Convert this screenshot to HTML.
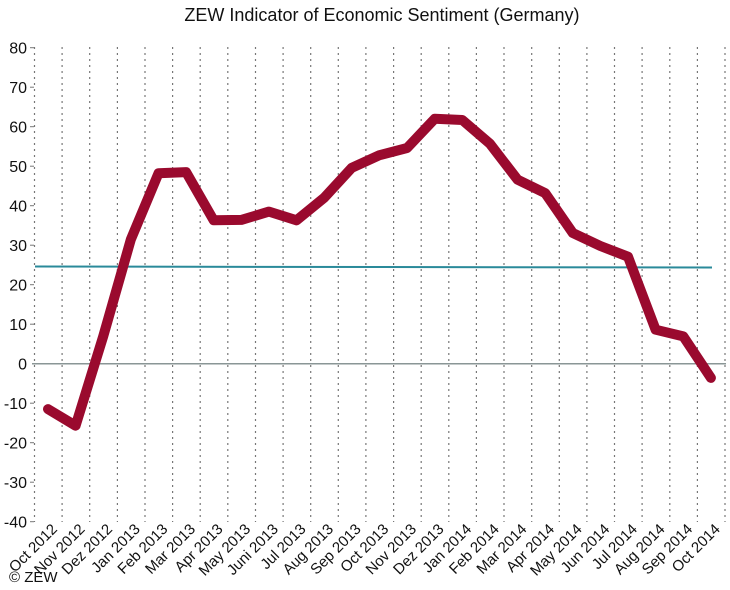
<!DOCTYPE html>
<html><head><style>body{margin:0;background:#fff}</style></head><body>
<svg width="730" height="585" xmlns="http://www.w3.org/2000/svg" font-family="Liberation Sans, sans-serif">
<text x="382" y="21" font-size="18" text-anchor="middle" fill="#111">ZEW Indicator of Economic Sentiment (Germany)</text>
<g stroke="#777" stroke-width="1.2" stroke-dasharray="2,4">
<line x1="34.5" y1="47" x2="34.5" y2="522"/><line x1="62.1" y1="47" x2="62.1" y2="522"/><line x1="89.7" y1="47" x2="89.7" y2="522"/><line x1="117.4" y1="47" x2="117.4" y2="522"/><line x1="145" y1="47" x2="145" y2="522"/><line x1="172.6" y1="47" x2="172.6" y2="522"/><line x1="200.2" y1="47" x2="200.2" y2="522"/><line x1="227.8" y1="47" x2="227.8" y2="522"/><line x1="255.5" y1="47" x2="255.5" y2="522"/><line x1="283.1" y1="47" x2="283.1" y2="522"/><line x1="310.7" y1="47" x2="310.7" y2="522"/><line x1="338.3" y1="47" x2="338.3" y2="522"/><line x1="365.9" y1="47" x2="365.9" y2="522"/><line x1="393.6" y1="47" x2="393.6" y2="522"/><line x1="421.2" y1="47" x2="421.2" y2="522"/><line x1="448.8" y1="47" x2="448.8" y2="522"/><line x1="476.4" y1="47" x2="476.4" y2="522"/><line x1="504" y1="47" x2="504" y2="522"/><line x1="531.7" y1="47" x2="531.7" y2="522"/><line x1="559.3" y1="47" x2="559.3" y2="522"/><line x1="586.9" y1="47" x2="586.9" y2="522"/><line x1="614.5" y1="47" x2="614.5" y2="522"/><line x1="642.1" y1="47" x2="642.1" y2="522"/><line x1="669.8" y1="47" x2="669.8" y2="522"/><line x1="697.4" y1="47" x2="697.4" y2="522"/><line x1="725" y1="47" x2="725" y2="522"/>
</g>
<g stroke="#777">
<line x1="30" y1="47.7" x2="34" y2="47.7"/><line x1="30" y1="87.2" x2="34" y2="87.2"/><line x1="30" y1="126.7" x2="34" y2="126.7"/><line x1="30" y1="166.2" x2="34" y2="166.2"/><line x1="30" y1="205.7" x2="34" y2="205.7"/><line x1="30" y1="245.2" x2="34" y2="245.2"/><line x1="30" y1="284.7" x2="34" y2="284.7"/><line x1="30" y1="324.2" x2="34" y2="324.2"/><line x1="30" y1="403.2" x2="34" y2="403.2"/><line x1="30" y1="442.7" x2="34" y2="442.7"/><line x1="30" y1="482.2" x2="34" y2="482.2"/><line x1="30" y1="521.7" x2="34" y2="521.7"/>
</g>
<g font-size="16" text-anchor="end" fill="#111">
<text x="27" y="53.7">80</text><text x="27" y="93.2">70</text><text x="27" y="132.7">60</text><text x="27" y="172.2">50</text><text x="27" y="211.7">40</text><text x="27" y="251.2">30</text><text x="27" y="290.7">20</text><text x="27" y="330.2">10</text><text x="27" y="369.7">0</text><text x="27" y="409.2">-10</text><text x="27" y="448.7">-20</text><text x="27" y="488.2">-30</text><text x="27" y="527.7">-40</text>
</g>
<line x1="32" y1="363.7" x2="726" y2="363.7" stroke="#8a9696" stroke-width="1.5"/>
<line x1="35" y1="266.5" x2="712" y2="267.5" stroke="#2a8a9a" stroke-width="2"/>
<polyline points="48,409.1 75.6,425.7 103.2,336.4 130.9,239.3 158.5,173.3 186.1,172.1 213.7,220.3 241.3,219.9 269,211.6 296.6,220.3 324.2,197.8 351.8,167.8 379.4,155.2 407.1,148 434.7,118.8 462.3,120 489.9,143.7 517.5,179.6 545.2,193.1 572.8,233 600.4,246 628,256.7 655.6,329.7 683.3,336.4 710.9,377.9" fill="none" stroke="#9a0a2e" stroke-width="10" stroke-linejoin="round" stroke-linecap="round"/>
<g font-size="15" text-anchor="end" fill="#111">
<text transform="translate(58,530) rotate(-45)">Oct 2012</text>
<text transform="translate(85.6,530) rotate(-45)">Nov 2012</text>
<text transform="translate(113.2,530) rotate(-45)">Dez 2012</text>
<text transform="translate(140.9,530) rotate(-45)">Jan 2013</text>
<text transform="translate(168.5,530) rotate(-45)">Feb 2013</text>
<text transform="translate(196.1,530) rotate(-45)">Mar 2013</text>
<text transform="translate(223.7,530) rotate(-45)">Apr 2013</text>
<text transform="translate(251.3,530) rotate(-45)">May 2013</text>
<text transform="translate(279,530) rotate(-45)">Juni 2013</text>
<text transform="translate(306.6,530) rotate(-45)">Jul 2013</text>
<text transform="translate(334.2,530) rotate(-45)">Aug 2013</text>
<text transform="translate(361.8,530) rotate(-45)">Sep 2013</text>
<text transform="translate(389.4,530) rotate(-45)">Oct 2013</text>
<text transform="translate(417.1,530) rotate(-45)">Nov 2013</text>
<text transform="translate(444.7,530) rotate(-45)">Dez 2013</text>
<text transform="translate(472.3,530) rotate(-45)">Jan 2014</text>
<text transform="translate(499.9,530) rotate(-45)">Feb 2014</text>
<text transform="translate(527.5,530) rotate(-45)">Mar 2014</text>
<text transform="translate(555.2,530) rotate(-45)">Apr 2014</text>
<text transform="translate(582.8,530) rotate(-45)">May 2014</text>
<text transform="translate(610.4,530) rotate(-45)">Jun 2014</text>
<text transform="translate(638,530) rotate(-45)">Jul 2014</text>
<text transform="translate(665.6,530) rotate(-45)">Aug 2014</text>
<text transform="translate(693.3,530) rotate(-45)">Sep 2014</text>
<text transform="translate(720.9,530) rotate(-45)">Oct 2014</text>
</g>
<text x="9" y="582" font-size="15" fill="#111">© ZEW</text>
</svg>
</body></html>
